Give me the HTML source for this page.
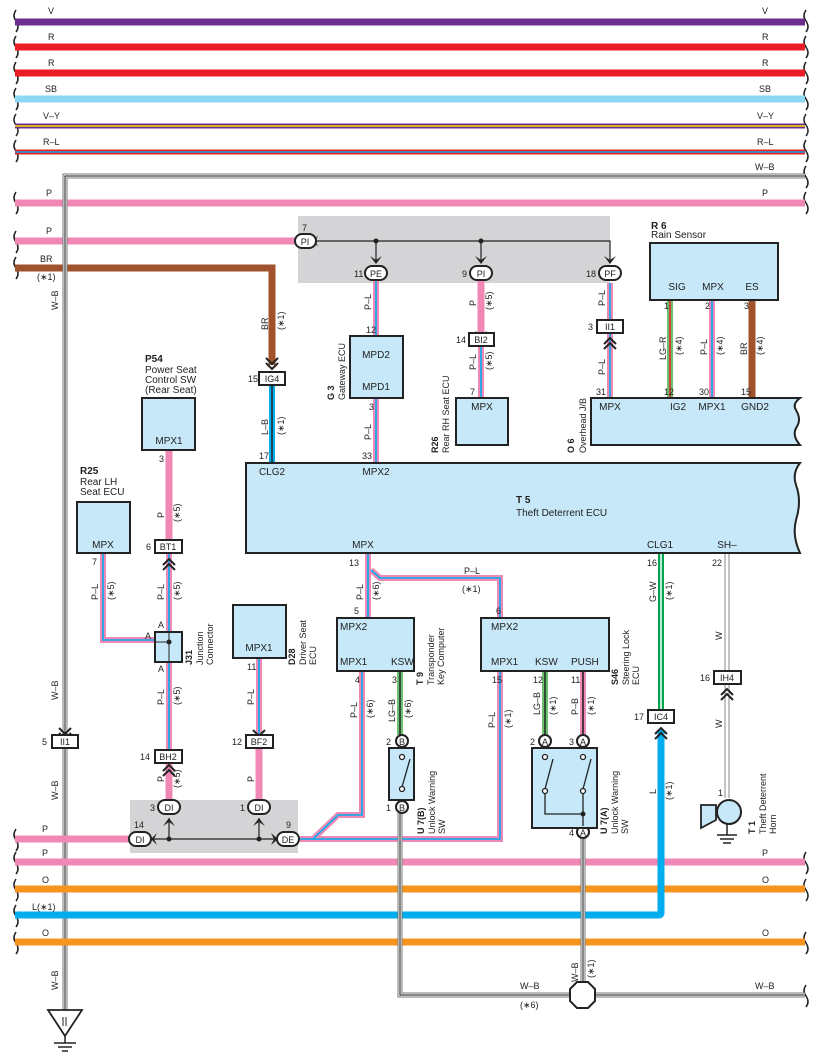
<!DOCTYPE html>
<html><head><meta charset="utf-8"><style>
html,body{margin:0;padding:0;background:#fff}
svg{display:block}
text{font-family:"Liberation Sans",sans-serif;font-size:9px;fill:#222}
.c{font-size:10px}
.b{font-weight:bold;font-size:10px}
.box{fill:#c6e8f8;stroke:#222;stroke-width:2}
.con{fill:#fff;stroke:#222;stroke-width:2}
</style></head><body>
<svg width="817" height="1061" viewBox="0 0 817 1061" xmlns="http://www.w3.org/2000/svg">
<!-- braces -->
<g fill="none" stroke="#222" stroke-width="1.5">
<path d="M16,10 q-4,6 0,11 q4,6 0,11"/><path d="M16,36 q-4,6 0,11 q4,6 0,11"/><path d="M16,62 q-4,6 0,11 q4,6 0,11"/><path d="M16,88 q-4,6 0,11 q4,6 0,11"/><path d="M16,114 q-4,6 0,11 q4,6 0,11"/><path d="M16,140 q-4,6 0,11 q4,6 0,11"/>
<path d="M16,192 q-4,6 0,11 q4,6 0,11"/><path d="M16,231 q-4,6 0,11 q4,6 0,11"/><path d="M16,257 q-4,6 0,11 q4,6 0,11"/>
<path d="M16,829 q-4,6 0,11 q4,6 0,11"/><path d="M16,852 q-4,6 0,11 q4,6 0,11"/><path d="M16,879 q-4,6 0,11 q4,6 0,11"/><path d="M16,905 q-4,6 0,11 q4,6 0,11"/><path d="M16,932 q-4,6 0,11 q4,6 0,11"/>
<path d="M806,10 q-4,6 0,11 q4,6 0,11"/><path d="M806,36 q-4,6 0,11 q4,6 0,11"/><path d="M806,62 q-4,6 0,11 q4,6 0,11"/><path d="M806,88 q-4,6 0,11 q4,6 0,11"/><path d="M806,114 q-4,6 0,11 q4,6 0,11"/><path d="M806,140 q-4,6 0,11 q4,6 0,11"/><path d="M806,166 q-4,6 0,11 q4,6 0,11"/><path d="M806,192 q-4,6 0,11 q4,6 0,11"/>
<path d="M806,852 q-4,6 0,11 q4,6 0,11"/><path d="M806,879 q-4,6 0,11 q4,6 0,11"/><path d="M806,932 q-4,6 0,11 q4,6 0,11"/><path d="M806,985 q-4,6 0,11 q4,6 0,11"/>
</g>
<!-- top buses -->
<line x1="15" y1="22" x2="805" y2="22" stroke="#6c2d8f" stroke-width="7"/>
<line x1="15" y1="47" x2="805" y2="47" stroke="#ed1c24" stroke-width="7"/>
<line x1="15" y1="73" x2="805" y2="73" stroke="#ed1c24" stroke-width="7"/>
<line x1="15" y1="99" x2="805" y2="99" stroke="#8dd6f5" stroke-width="7"/>
<line x1="15" y1="126" x2="805" y2="126" stroke="#6c2d8f" stroke-width="5"/>
<line x1="15" y1="126" x2="805" y2="126" stroke="#f3e500" stroke-width="1.5"/>
<line x1="15" y1="152" x2="805" y2="152" stroke="#ed1c24" stroke-width="5"/>
<line x1="15" y1="152" x2="805" y2="152" stroke="#00aeef" stroke-width="1.5"/>
<line x1="15" y1="203" x2="805" y2="203" stroke="#f088b6" stroke-width="7"/>
<line x1="15" y1="241" x2="305" y2="241" stroke="#f088b6" stroke-width="7"/>
<path d="M15,268 H272 V365" fill="none" stroke="#a0522d" stroke-width="7"/>
<!-- W-B lines -->
<path d="M65,1012 V176 H805" fill="none" stroke="#777" stroke-width="5"/>
<path d="M65,1012 V176 H805" fill="none" stroke="#fff" stroke-width="3"/>
<path d="M65,1012 V176 H805" fill="none" stroke="#111" stroke-width="1"/>
<g font-size="9">
<text x="48" y="14">V</text><text x="48" y="40">R</text><text x="48" y="66">R</text><text x="45" y="92">SB</text><text x="43" y="119">V–Y</text><text x="43" y="145">R–L</text><text x="46" y="196">P</text><text x="46" y="234">P</text><text x="40" y="262">BR</text><text x="37" y="280">(∗1)</text>
<text x="762" y="14">V</text><text x="762" y="40">R</text><text x="762" y="66">R</text><text x="759" y="92">SB</text><text x="757" y="119">V–Y</text><text x="757" y="145">R–L</text><text x="755" y="170">W–B</text><text x="762" y="196">P</text>
</g>
<text transform="translate(58,310) rotate(-90)">W–B</text>
<text transform="translate(58,700) rotate(-90)">W–B</text>
<text transform="translate(58,800) rotate(-90)">W–B</text>
<text transform="translate(58,990) rotate(-90)">W–B</text>
<!-- gray boxes -->
<rect x="298" y="216" width="312" height="67" fill="#d4d4d6"/>
<rect x="130" y="800" width="168" height="53" fill="#d4d4d6"/>
<!-- bottom buses -->
<line x1="15" y1="839" x2="138" y2="839" stroke="#f088b6" stroke-width="7"/>
<line x1="15" y1="862" x2="805" y2="862" stroke="#f088b6" stroke-width="7"/>
<line x1="15" y1="889" x2="805" y2="889" stroke="#f7941d" stroke-width="7"/>
<path d="M15,915 H659 a2,2 0 0 0 2,-2 V730" fill="none" stroke="#00aeef" stroke-width="7"/>
<line x1="15" y1="942" x2="805" y2="942" stroke="#f7941d" stroke-width="7"/>
<g><text x="42" y="832">P</text><text x="42" y="856">P</text><text x="42" y="883">O</text><text x="32" y="910">L(∗1)</text><text x="42" y="936">O</text>
<text x="762" y="856">P</text><text x="762" y="883">O</text><text x="762" y="936">O</text></g>
<!-- gray box 1 internals -->
<path d="M316,241 H610 V262" fill="none" stroke="#222" stroke-width="1.2"/>
<line x1="376" y1="241" x2="376" y2="262" stroke="#222" stroke-width="1.2"/>
<line x1="481" y1="241" x2="481" y2="262" stroke="#222" stroke-width="1.2"/>
<circle cx="376" cy="241" r="2.5" fill="#222"/><circle cx="481" cy="241" r="2.5" fill="#222"/>
<g fill="#222"><path d="M370,256 L376,264 L382,256 L376,260Z"/><path d="M475,256 L481,264 L487,256 L481,260Z"/><path d="M604,256 L610,264 L616,256 L610,260Z"/><path d="M318,235 L314,241 L318,247 L316,241Z"/></g>
<!-- wires -->
<g fill="none">
<g stroke="#f088b6" stroke-width="6">
<path d="M376,280 V336"/><path d="M376,398 V463"/><path d="M481,346 V398"/><path d="M610,283 V320"/><path d="M610,333 V398"/><path d="M712,300 V398"/>
<path d="M103,553 V640 H155"/><path d="M169,553 V632"/><path d="M169,662 V752"/><path d="M259,658 V737"/>
<path d="M368,553 V618"/><path d="M371,570 L380,578 H500 V618"/>
<path d="M300,839 H313 L338,815 H362 V671"/><path d="M313,839 H500 V671"/>
<path d="M583,671 V736"/>
</g>
<g stroke="#00aeef" stroke-width="1.6">
<path d="M376,280 V336"/><path d="M376,398 V463"/><path d="M481,346 V398"/><path d="M610,283 V320"/><path d="M610,333 V398"/><path d="M712,300 V398"/>
<path d="M103,553 V640 H155"/><path d="M169,553 V632"/><path d="M169,662 V752"/><path d="M259,658 V737"/>
<path d="M368,553 V618"/><path d="M371,570 L380,578 H500 V618"/>
<path d="M300,839 H313 L338,815 H362 V671"/><path d="M313,839 H500 V671"/>
</g>
<path d="M583,671 V736" stroke="#222" stroke-width="1.6"/>
<g stroke="#f088b6" stroke-width="7"><path d="M481,280 V335"/><path d="M169,450 V540"/><path d="M169,762 V800"/><path d="M259,748 V800"/></g>
<path d="M272,385 V463" stroke="#00aeef" stroke-width="6"/><path d="M272,385 V463" stroke="#222" stroke-width="1.5"/>
<path d="M670,300 V398" stroke="#6cc070" stroke-width="6"/><path d="M670,300 V398" stroke="#ed1c24" stroke-width="1.5"/>
<path d="M752,300 V398" stroke="#a0522d" stroke-width="7"/>
<path d="M400,671 V735" stroke="#6cc070" stroke-width="6"/><path d="M400,671 V735" stroke="#222" stroke-width="1.5"/>
<path d="M545,671 V735" stroke="#6cc070" stroke-width="6"/><path d="M545,671 V735" stroke="#222" stroke-width="1.5"/>
<path d="M661,553 V710" stroke="#00a650" stroke-width="6"/><path d="M661,553 V710" stroke="#fff" stroke-width="1.5"/>
<path d="M727,553 V671 M727,684 V798" stroke="#888" stroke-width="5"/><path d="M727,553 V671 M727,684 V798" stroke="#fff" stroke-width="3"/>
<path d="M400,813 V995 H805 M583,838 V995" stroke="#777" stroke-width="5"/>
<path d="M400,813 V995 H805 M583,838 V995" stroke="#fff" stroke-width="3"/>
<path d="M400,813 V995 H805 M583,838 V995" stroke="#111" stroke-width="1"/>
</g>
<!-- gray box 2 internals -->
<path d="M150,839 H278" stroke="#222" stroke-width="1.2"/>
<line x1="169" y1="818" x2="169" y2="839" stroke="#222" stroke-width="1.2"/><line x1="259" y1="818" x2="259" y2="839" stroke="#222" stroke-width="1.2"/>
<circle cx="169" cy="839" r="2.5" fill="#222"/><circle cx="259" cy="839" r="2.5" fill="#222"/>
<g fill="#222"><path d="M163,826 L169,818 L175,826 L169,822Z"/><path d="M253,826 L259,818 L265,826 L259,822Z"/><path d="M157,833 L151,839 L157,845 L154,839Z"/><path d="M271,833 L278,839 L271,845 L274,839Z"/></g>
<!-- chevrons -->
<g fill="none" stroke="#222" stroke-width="2">
<path d="M266,358 l6,6 l6,-6 M266,363 l6,6 l6,-6"/>
<path d="M475,332 l6,6 l6,-6 M475,337 l6,6 l6,-6"/>
<path d="M604,344 l6,-6 l6,6 M604,349 l6,-6 l6,6"/>
<path d="M163,565 l6,-6 l6,6 M163,570 l6,-6 l6,6"/>
<path d="M163,771 l6,-6 l6,6 M163,776 l6,-6 l6,6"/>
<path d="M253,730 l6,6 l6,-6 M253,735 l6,6 l6,-6"/>
<path d="M59,728 l6,6 l6,-6 M59,733 l6,6 l6,-6"/>
<path d="M655,734 l6,-6 l6,6 M655,739 l6,-6 l6,6"/>
<path d="M721,695 l6,-6 l6,6 M721,700 l6,-6 l6,6"/>
</g>
<!-- connector boxes -->
<g class="c">
<rect class="con" x="259" y="372" width="26" height="13"/><text x="272" y="382" text-anchor="middle">IG4</text><text x="248" y="382">15</text>
<rect class="con" x="469" y="333" width="25" height="13"/><text x="481" y="343" text-anchor="middle">BI2</text><text x="456" y="343">14</text>
<rect class="con" x="597" y="320" width="26" height="13"/><text x="610" y="330" text-anchor="middle">II1</text><text x="588" y="330">3</text>
<rect class="con" x="155" y="540" width="27" height="13"/><text x="168" y="550" text-anchor="middle">BT1</text><text x="146" y="550">6</text>
<rect class="con" x="155" y="750" width="27" height="13"/><text x="168" y="760" text-anchor="middle">BH2</text><text x="140" y="760">14</text>
<rect class="con" x="246" y="735" width="27" height="13"/><text x="259" y="745" text-anchor="middle">BF2</text><text x="232" y="745">12</text>
<rect class="con" x="52" y="735" width="26" height="13"/><text x="65" y="745" text-anchor="middle">II1</text><text x="42" y="745">5</text>
<rect class="con" x="648" y="710" width="26" height="13"/><text x="661" y="720" text-anchor="middle">IC4</text><text x="634" y="720">17</text>
<rect class="con" x="714" y="671" width="27" height="13"/><text x="727" y="681" text-anchor="middle">IH4</text><text x="700" y="681">16</text>
</g>
<!-- ovals -->
<g class="c">
<rect class="con" x="295" y="234" width="21" height="14" rx="7"/><text x="305" y="245" text-anchor="middle">PI</text><text x="302" y="231">7</text>
<rect class="con" x="365" y="266" width="22" height="14" rx="7"/><text x="376" y="277" text-anchor="middle">PE</text><text x="354" y="277">11</text>
<rect class="con" x="470" y="266" width="22" height="14" rx="7"/><text x="481" y="277" text-anchor="middle">PI</text><text x="462" y="277">9</text>
<rect class="con" x="599" y="266" width="22" height="14" rx="7"/><text x="610" y="277" text-anchor="middle">PF</text><text x="586" y="277">18</text>
<rect class="con" x="158" y="800" width="22" height="14" rx="7"/><text x="169" y="811" text-anchor="middle">DI</text><text x="150" y="811">3</text>
<rect class="con" x="248" y="800" width="22" height="14" rx="7"/><text x="259" y="811" text-anchor="middle">DI</text><text x="240" y="811">1</text>
<rect class="con" x="129" y="832" width="22" height="14" rx="7"/><text x="140" y="843" text-anchor="middle">DI</text><text x="134" y="828">14</text>
<rect class="con" x="277" y="832" width="22" height="14" rx="7"/><text x="288" y="843" text-anchor="middle">DE</text><text x="286" y="828">9</text>
</g>
<!-- round pin connectors -->
<g class="c">
<circle class="con" cx="402" cy="741" r="6"/><text x="402" y="745" text-anchor="middle" font-size="8">B</text><text x="386" y="745">2</text>
<circle class="con" cx="402" cy="807" r="6"/><text x="402" y="811" text-anchor="middle" font-size="8">B</text><text x="386" y="811">1</text>
<circle class="con" cx="545" cy="741" r="6"/><text x="545" y="745" text-anchor="middle" font-size="8">A</text><text x="530" y="745">2</text>
<circle class="con" cx="583" cy="741" r="6"/><text x="583" y="745" text-anchor="middle" font-size="8">A</text><text x="569" y="745">3</text>
<circle class="con" cx="583" cy="832" r="6"/><text x="583" y="836" text-anchor="middle" font-size="8">A</text><text x="569" y="836">4</text>
</g>
<!-- component boxes -->
<rect class="box" x="350" y="336" width="53" height="62"/><text class="c" x="376" y="358" text-anchor="middle">MPD2</text><text class="c" x="376" y="390" text-anchor="middle">MPD1</text>
<rect class="box" x="456" y="398" width="52" height="47"/><text class="c" x="482" y="410" text-anchor="middle">MPX</text>
<rect class="box" x="650" y="243" width="128" height="57"/>
<text class="c" x="677" y="290" text-anchor="middle">SIG</text><text class="c" x="713" y="290" text-anchor="middle">MPX</text><text class="c" x="752" y="290" text-anchor="middle">ES</text>
<path class="box" d="M591,398 H800 q-8,6 -4,12 q6,10 0,18 q-4,8 4,17 H591Z"/>
<text class="c" x="610" y="410" text-anchor="middle">MPX</text><text class="c" x="678" y="410" text-anchor="middle">IG2</text><text class="c" x="712" y="410" text-anchor="middle">MPX1</text><text class="c" x="755" y="410" text-anchor="middle">GND2</text>
<path class="box" d="M246,463 H800 q-8,10 -4,22 q6,16 0,35 q-4,16 4,33 H246Z"/>
<text class="c" x="272" y="475" text-anchor="middle">CLG2</text><text class="c" x="376" y="475" text-anchor="middle">MPX2</text>
<text class="b" x="516" y="503">T 5</text><text class="c" x="516" y="516">Theft Deterrent ECU</text>
<text class="c" x="363" y="548" text-anchor="middle">MPX</text><text class="c" x="660" y="548" text-anchor="middle">CLG1</text><text class="c" x="727" y="548" text-anchor="middle">SH–</text>
<rect class="box" x="142" y="398" width="53" height="52"/><text class="c" x="169" y="444" text-anchor="middle">MPX1</text>
<rect class="box" x="77" y="502" width="53" height="51"/><text class="c" x="103" y="548" text-anchor="middle">MPX</text>
<rect class="box" x="155" y="632" width="27" height="30"/><line x1="155" y1="642" x2="169" y2="642" stroke="#222"/><line x1="169" y1="632" x2="169" y2="662" stroke="#222"/><circle cx="169" cy="642" r="2.5" fill="#222"/>
<rect class="box" x="233" y="605" width="53" height="53"/><text class="c" x="259" y="651" text-anchor="middle">MPX1</text>
<rect class="box" x="337" y="618" width="77" height="53"/><text class="c" x="340" y="630">MPX2</text><text class="c" x="340" y="665">MPX1</text><text class="c" x="391" y="665">KSW</text>
<rect class="box" x="481" y="618" width="128" height="53"/><text class="c" x="491" y="630">MPX2</text><text class="c" x="491" y="665">MPX1</text><text class="c" x="535" y="665">KSW</text><text class="c" x="571" y="665">PUSH</text>
<rect class="box" x="389" y="748" width="25" height="52"/>
<rect class="box" x="532" y="748" width="65" height="80"/>
<g stroke="#222" stroke-width="1.3" fill="#fff">
<circle cx="402" cy="757" r="2.5"/><circle cx="402" cy="789" r="2.5"/><line x1="402" y1="787" x2="410" y2="759"/>
<circle cx="545" cy="757" r="2.5"/><circle cx="545" cy="791" r="2.5"/><line x1="545" y1="789" x2="553" y2="759"/>
<circle cx="583" cy="757" r="2.5"/><circle cx="583" cy="791" r="2.5"/><line x1="583" y1="789" x2="591" y2="759"/>
<path d="M545,794 V814 H583 M583,794 V826" fill="none"/>
</g>
<circle cx="583" cy="814" r="2.5" fill="#222"/>
<!-- horn -->
<path d="M701,805 H716 V820 L701,828Z" fill="#c6e8f8" stroke="#222" stroke-width="1.8"/>
<circle cx="729" cy="812" r="12" fill="#c6e8f8" stroke="#222" stroke-width="2"/>
<g stroke="#222" stroke-width="1.5"><line x1="727" y1="824" x2="727" y2="835"/><line x1="717" y1="835" x2="737" y2="835"/><line x1="720" y1="839" x2="734" y2="839"/><line x1="723" y1="843" x2="731" y2="843"/></g>
<!-- octagon -->
<path d="M577,982 H588 L595,989 V1001 L588,1008 H577 L570,1001 V989Z" fill="#fff" stroke="#222" stroke-width="2"/>
<!-- ground -->
<path d="M48,1010 H82 L65,1036Z" fill="#fff" stroke="#222" stroke-width="1.8"/>
<line x1="63" y1="1017" x2="63" y2="1026" stroke="#222"/><line x1="66" y1="1017" x2="66" y2="1026" stroke="#222"/>
<g stroke="#222" stroke-width="1.5"><line x1="65" y1="1036" x2="65" y2="1043"/><line x1="54" y1="1043" x2="76" y2="1043"/><line x1="58" y1="1047" x2="72" y2="1047"/><line x1="62" y1="1051" x2="68" y2="1051"/></g>
<!-- pin numbers -->
<g>
<text x="366" y="333">12</text><text x="369" y="410">3</text><text x="362" y="459">33</text><text x="259" y="459">17</text>
<text x="470" y="395">7</text><text x="596" y="395">31</text><text x="664" y="395">12</text><text x="699" y="395">30</text><text x="741" y="395">15</text>
<text x="664" y="309">1</text><text x="705" y="309">2</text><text x="744" y="309">3</text>
<text x="159" y="462">3</text><text x="92" y="565">7</text>
<text x="145" y="639">A</text><text x="158" y="628">A</text><text x="158" y="672">A</text>
<text x="247" y="670">11</text><text x="349" y="566">13</text><text x="354" y="614">5</text><text x="355" y="683">4</text><text x="392" y="683">3</text>
<text x="496" y="614">6</text><text x="492" y="683">15</text><text x="533" y="683">12</text><text x="571" y="683">11</text>
<text x="647" y="566">16</text><text x="712" y="566">22</text><text x="718" y="796">1</text>
<text x="464" y="574">P–L</text><text x="462" y="592">(∗1)</text>
<text x="520" y="989">W–B</text><text x="520" y="1008">(∗6)</text><text x="755" y="989">W–B</text>
</g>
<!-- rotated wire labels -->
<g>
<text transform="translate(268,330) rotate(-90)">BR</text><text transform="translate(284,330) rotate(-90)">(∗1)</text>
<text transform="translate(268,435) rotate(-90)">L–B</text><text transform="translate(284,435) rotate(-90)">(∗1)</text>
<text transform="translate(371,310) rotate(-90)">P–L</text><text transform="translate(371,440) rotate(-90)">P–L</text>
<text transform="translate(476,306) rotate(-90)">P</text><text transform="translate(492,310) rotate(-90)">(∗5)</text>
<text transform="translate(476,370) rotate(-90)">P–L</text><text transform="translate(492,370) rotate(-90)">(∗5)</text>
<text transform="translate(605,306) rotate(-90)">P–L</text><text transform="translate(605,375) rotate(-90)">P–L</text>
<text transform="translate(666,360) rotate(-90)">LG–R</text><text transform="translate(682,355) rotate(-90)">(∗4)</text>
<text transform="translate(707,355) rotate(-90)">P–L</text><text transform="translate(723,355) rotate(-90)">(∗4)</text>
<text transform="translate(747,355) rotate(-90)">BR</text><text transform="translate(763,355) rotate(-90)">(∗4)</text>
<text transform="translate(164,518) rotate(-90)">P</text><text transform="translate(180,522) rotate(-90)">(∗5)</text>
<text transform="translate(98,600) rotate(-90)">P–L</text><text transform="translate(114,600) rotate(-90)">(∗5)</text>
<text transform="translate(164,600) rotate(-90)">P–L</text><text transform="translate(180,600) rotate(-90)">(∗5)</text>
<text transform="translate(164,705) rotate(-90)">P–L</text><text transform="translate(180,705) rotate(-90)">(∗5)</text>
<text transform="translate(164,782) rotate(-90)">P</text><text transform="translate(180,788) rotate(-90)">(∗5)</text>
<text transform="translate(254,705) rotate(-90)">P–L</text><text transform="translate(254,782) rotate(-90)">P</text>
<text transform="translate(363,600) rotate(-90)">P–L</text><text transform="translate(379,600) rotate(-90)">(∗6)</text>
<text transform="translate(357,718) rotate(-90)">P–L</text><text transform="translate(373,718) rotate(-90)">(∗6)</text>
<text transform="translate(395,722) rotate(-90)">LG–B</text><text transform="translate(411,718) rotate(-90)">(∗6)</text>
<text transform="translate(495,728) rotate(-90)">P–L</text><text transform="translate(511,728) rotate(-90)">(∗1)</text>
<text transform="translate(540,715) rotate(-90)">LG–B</text><text transform="translate(556,715) rotate(-90)">(∗1)</text>
<text transform="translate(578,715) rotate(-90)">P–B</text><text transform="translate(594,715) rotate(-90)">(∗1)</text>
<text transform="translate(656,602) rotate(-90)">G–W</text><text transform="translate(672,600) rotate(-90)">(∗1)</text>
<text transform="translate(656,794) rotate(-90)">L</text><text transform="translate(672,800) rotate(-90)">(∗1)</text>
<text transform="translate(722,640) rotate(-90)">W</text><text transform="translate(722,728) rotate(-90)">W</text>
<text transform="translate(578,982) rotate(-90)">W–B</text><text transform="translate(594,978) rotate(-90)">(∗1)</text>
</g>
<!-- component labels -->
<text class="b" x="651" y="229">R 6</text><text class="c" x="651" y="238">Rain Sensor</text>
<text class="b" x="145" y="362">P54</text><text class="c" x="145" y="373">Power Seat</text><text class="c" x="145" y="383">Control SW</text><text class="c" x="145" y="393">(Rear Seat)</text>
<text class="b" x="80" y="474">R25</text><text class="c" x="80" y="485">Rear LH</text><text class="c" x="80" y="495">Seat ECU</text>
<g class="c">
<text transform="translate(334,400) rotate(-90)"><tspan font-weight="bold">G 3</tspan></text><text transform="translate(345,400) rotate(-90)">Gateway ECU</text>
<text transform="translate(438,453) rotate(-90)"><tspan font-weight="bold">R26</tspan></text><text transform="translate(449,453) rotate(-90)">Rear RH Seat ECU</text>
<text transform="translate(574,453) rotate(-90)"><tspan font-weight="bold">O 6</tspan></text><text transform="translate(586,453) rotate(-90)">Overhead J/B</text>
<text transform="translate(192,665) rotate(-90)"><tspan font-weight="bold">J31</tspan></text><text transform="translate(203,665) rotate(-90)">Junction</text><text transform="translate(213,665) rotate(-90)">Connector</text>
<text transform="translate(295,665) rotate(-90)"><tspan font-weight="bold">D28</tspan></text><text transform="translate(306,665) rotate(-90)">Driver Seat</text><text transform="translate(316,665) rotate(-90)">ECU</text>
<text transform="translate(423,685) rotate(-90)"><tspan font-weight="bold">T 9</tspan></text><text transform="translate(434,685) rotate(-90)">Transponder</text><text transform="translate(444,685) rotate(-90)">Key Computer</text>
<text transform="translate(618,685) rotate(-90)"><tspan font-weight="bold">S46</tspan></text><text transform="translate(629,685) rotate(-90)">Steering Lock</text><text transform="translate(639,685) rotate(-90)">ECU</text>
<text transform="translate(424,834) rotate(-90)"><tspan font-weight="bold">U 7(B)</tspan></text><text transform="translate(435,834) rotate(-90)">Unlock Warning</text><text transform="translate(445,834) rotate(-90)">SW</text>
<text transform="translate(607,834) rotate(-90)"><tspan font-weight="bold">U 7(A)</tspan></text><text transform="translate(618,834) rotate(-90)">Unlock Warning</text><text transform="translate(628,834) rotate(-90)">SW</text>
<text transform="translate(755,834) rotate(-90)"><tspan font-weight="bold">T 1</tspan></text><text transform="translate(766,834) rotate(-90)">Theft Deterrent</text><text transform="translate(776,834) rotate(-90)">Horn</text>
</g>
</svg>
</body></html>
